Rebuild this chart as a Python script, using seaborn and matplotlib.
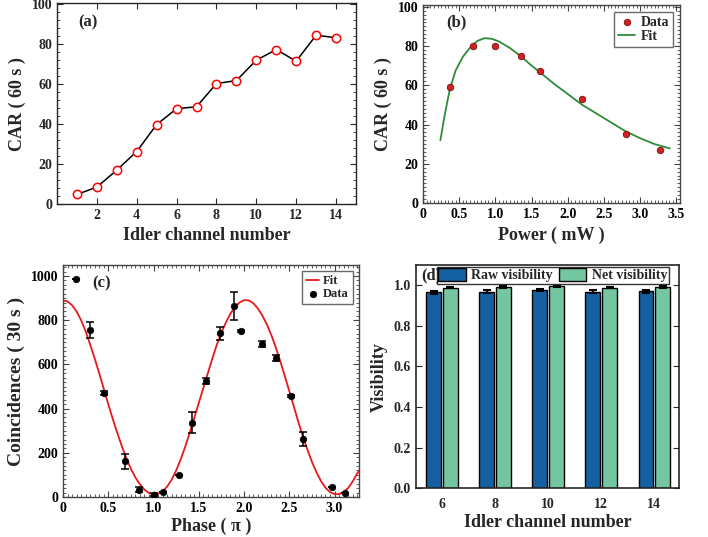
import numpy as np
import pandas as pd
import matplotlib
matplotlib.use('Agg')
import matplotlib.pyplot as plt
from matplotlib.ticker import MultipleLocator
import seaborn as sns

# (a) CAR vs idler channel
channel_a = [1, 2, 3, 4, 5, 6, 7, 8, 9, 10, 11, 12, 13, 14]
car_a = [4.8, 8.5, 17.0, 26.3, 39.8, 47.7, 48.7, 60.3, 61.8, 72.0, 77.3, 71.5, 84.5, 83.2]

# (b) CAR vs pump power
power_b = [0.377, 0.69, 1.0, 1.36, 1.61, 2.19, 2.80, 3.27]
car_b = [59.2, 80.2, 80.2, 74.7, 67.3, 52.9, 35.1, 27.1]
fit_power_b = [0.24, 0.30, 0.37, 0.45, 0.55, 0.65, 0.75, 0.85, 0.95, 1.05, 1.2, 1.36,
               1.5, 1.62, 1.8, 2.0, 2.2, 2.4, 2.6, 2.8, 3.0, 3.2, 3.41]
fit_car_b = [32, 45, 58, 67.5, 74.5, 79.2, 82.6, 84.0, 83.7, 82.3, 79, 74.5,
             70, 66.5, 61, 55.5, 50, 45.5, 41, 36.5, 33, 30, 27.8]

# (c) two-photon interference
phase_c = [0.148, 0.299, 0.454, 0.69, 0.845, 1.0, 1.11, 1.277, 1.428, 1.583,
           1.738, 1.893, 1.97, 2.2, 2.35, 2.52, 2.657, 2.97, 3.118]
coinc_c = [986, 755, 471, 161, 33, 11, 24, 100, 337, 524,
           741, 863, 752, 693, 628, 457, 263, 45, 20]
err_c = [0, 36, 8, 34, 10, 5, 0, 0, 49, 14,
         30, 63, 5, 12, 14, 5, 32, 0, 0]
fit_phase_c = [0.00, 0.05, 0.10, 0.15, 0.20, 0.25, 0.30, 0.35, 0.40, 0.45,
               0.50, 0.55, 0.60, 0.65, 0.70, 0.75, 0.80, 0.85, 0.90, 0.95,
               1.00, 1.05, 1.10, 1.15, 1.20, 1.25, 1.30, 1.35, 1.40, 1.45,
               1.50, 1.55, 1.60, 1.65, 1.70, 1.75, 1.80, 1.85, 1.90, 1.95,
               2.00, 2.05, 2.10, 2.15, 2.20, 2.25, 2.30, 2.35, 2.40, 2.45,
               2.50, 2.55, 2.60, 2.65, 2.70, 2.75, 2.80, 2.85, 2.90, 2.95,
               3.00, 3.05, 3.10, 3.15, 3.20, 3.27]
fit_coinc_c = [890, 885, 868, 840, 800, 750, 690, 627, 560, 490,
               420, 353, 290, 230, 175, 128, 88, 57, 33, 18,
               12, 14, 25, 47, 78, 120, 170, 227, 290, 357,
               425, 493, 560, 627, 690, 743, 790, 830, 860, 880,
               891, 890, 878, 855, 823, 783, 735, 678, 615, 548,
               480, 410, 340, 275, 215, 160, 112, 72, 42, 22,
               13, 13, 22, 40, 70, 120]

# (d) visibility
channels_d = ['6', '8', '10', '12', '14']
raw_vis = [0.966, 0.969, 0.977, 0.969, 0.972]
net_vis = [0.989, 0.993, 0.995, 0.989, 0.993]
raw_err = [0.007, 0.007, 0.006, 0.008, 0.007]
net_err = [0.004, 0.004, 0.004, 0.004, 0.004]

sns.set_style('ticks')
plt.rcParams['font.family'] = ['Liberation Serif', 'DejaVu Serif']
plt.rcParams['font.weight'] = 'bold'
plt.rcParams['axes.labelweight'] = 'bold'
plt.rcParams['xtick.direction'] = 'in'
plt.rcParams['ytick.direction'] = 'in'
plt.rcParams['axes.linewidth'] = 1.0

fig = plt.figure(figsize=(7.08, 5.37), dpi=100)
ax_a = fig.add_axes([0.0805, 0.620, 0.4223, 0.374])
ax_b = fig.add_axes([0.5975, 0.622, 0.363, 0.369])
ax_c = fig.add_axes([0.089, 0.0745, 0.418, 0.432])
ax_d = fig.add_axes([0.5876, 0.0912, 0.3715, 0.415])

label_fs = 13
tick_fs = 10

# ---- (a)
sns.lineplot(x=channel_a, y=car_a, ax=ax_a, color='black', lw=1.1, marker='o',
             markersize=6, markerfacecolor='white', markeredgecolor='red', markeredgewidth=1.1)
ax_a.set_xlim(0, 15)
ax_a.set_ylim(0, 100.5)
ax_a.set_xticks([2, 4, 6, 8, 10, 12, 14])
ax_a.set_yticks([0, 20, 40, 60, 80, 100])
ax_a.yaxis.set_minor_locator(MultipleLocator(4))
ax_a.tick_params(top=True, right=True, which='both', labelsize=tick_fs)
ax_a.tick_params(which='major', length=4)
ax_a.tick_params(which='minor', length=2)
ax_a.set_xlabel('Idler channel number', fontsize=label_fs)
ax_a.set_ylabel('CAR ( 60 s )', fontsize=label_fs)
ax_a.text(0.07, 0.905, '(a)', transform=ax_a.transAxes, fontsize=12, fontweight='bold', va='center')

# ---- (b)
sns.lineplot(x=fit_power_b, y=fit_car_b, ax=ax_b, color='#2e8b3a', lw=1.3, label='Fit', sort=False)
sns.scatterplot(x=power_b, y=car_b, ax=ax_b, color='#d42020', edgecolor='#7a1010',
                s=22, linewidth=0.6, label='Data', zorder=3)
ax_b.set_xlim(0, 3.55)
ax_b.set_ylim(0, 101)
ax_b.set_xticks([0, 0.5, 1.0, 1.5, 2.0, 2.5, 3.0, 3.5])
ax_b.set_xticklabels(['0', '0.5', '1.0', '1.5', '2.0', '2.5', '3.0', '3.5'])
ax_b.set_yticks([0, 20, 40, 60, 80, 100])
ax_b.xaxis.set_minor_locator(MultipleLocator(0.05))
ax_b.yaxis.set_minor_locator(MultipleLocator(2))
ax_b.tick_params(top=True, right=True, which='both', labelsize=tick_fs, colors='#444444', labelcolor='black')
ax_b.tick_params(which='major', length=4)
ax_b.tick_params(which='minor', length=2)
ax_b.set_xlabel('Power ( mW )', fontsize=label_fs)
ax_b.set_ylabel('CAR ( 60 s )', fontsize=label_fs)
ax_b.text(0.09, 0.91, '(b)', transform=ax_b.transAxes, fontsize=12, fontweight='bold', va='center')
h, l = ax_b.get_legend_handles_labels()
ax_b.legend([h[1], h[0]], [l[1], l[0]], loc='upper right', fontsize=10, frameon=True, fancybox=False,
            edgecolor='#444444', handlelength=1.2, handletextpad=0.4, borderpad=0.3,
            labelspacing=0.1, borderaxespad=0.5)
for s in ax_b.spines.values():
    s.set_color('#444444')

# ---- (c)
sns.lineplot(x=fit_phase_c, y=fit_coinc_c, ax=ax_c, color='#e8191c', lw=1.3, label='Fit', sort=False)
ax_c.errorbar(phase_c, coinc_c, yerr=err_c, fmt='none', ecolor='black', elinewidth=1.1,
              capsize=3, capthick=1.1, zorder=3)
sns.scatterplot(x=phase_c, y=coinc_c, ax=ax_c, color='black', edgecolor='black',
                s=22, linewidth=0.5, label='Data', zorder=4)
ax_c.set_xlim(0, 3.27)
ax_c.set_ylim(0, 1050)
ax_c.set_xticks([0, 0.5, 1.0, 1.5, 2.0, 2.5, 3.0])
ax_c.set_xticklabels(['0', '0.5', '1.0', '1.5', '2.0', '2.5', '3.0'])
ax_c.set_yticks([0, 200, 400, 600, 800, 1000])
ax_c.xaxis.set_minor_locator(MultipleLocator(0.05))
ax_c.yaxis.set_minor_locator(MultipleLocator(20))
ax_c.tick_params(top=True, right=True, which='both', labelsize=tick_fs, colors='#444444', labelcolor='black')
ax_c.tick_params(which='major', length=4)
ax_c.tick_params(which='minor', length=2)
ax_c.set_xlabel('Phase ( \u03c0 )', fontsize=label_fs, labelpad=2)
ax_c.set_ylabel('Coincidences ( 30 s )', fontsize=label_fs + 1)
ax_c.text(0.1, 0.92, '(c)', transform=ax_c.transAxes, fontsize=12, fontweight='bold', va='center')
ax_c.legend(loc='upper right', fontsize=9, frameon=True, fancybox=False, edgecolor='#444444',
            handlelength=1.1, handletextpad=0.3, borderpad=0.3, labelspacing=0.1, borderaxespad=0.5)
for s in ax_c.spines.values():
    s.set_color('#444444')

# ---- (d)
df_d = pd.DataFrame({
    'channel': channels_d * 2,
    'vis': raw_vis + net_vis,
    'err': raw_err + net_err,
    'kind': ['Raw visibility'] * len(channels_d) + ['Net visibility'] * len(channels_d),
})
sns.barplot(data=df_d, x='channel', y='vis', hue='kind', ax=ax_d, errorbar=None,
            palette=['#1560a0', '#74c6a0'], width=0.63, gap=0.11,
            edgecolor='black', linewidth=1.0, saturation=1)
for cont, errs in zip(ax_d.containers, [raw_err, net_err]):
    xs = [b.get_x() + b.get_width() / 2 for b in cont]
    ys = [b.get_height() for b in cont]
    ax_d.errorbar(xs, ys, yerr=errs, fmt='none', ecolor='black', elinewidth=1.5,
                  capsize=3, capthick=1.5, zorder=3)
ax_d.set_xlim(-0.49, 4.465)
ax_d.set_ylim(0, 1.1)
ax_d.set_yticks([0.0, 0.2, 0.4, 0.6, 0.8, 1.0])
ax_d.set_yticklabels(['0.0', '0.2', '0.4', '0.6', '0.8', '1.0'])
ax_d.tick_params(right=True, labelsize=tick_fs, length=4)
ax_d.tick_params(axis='x', length=0, pad=7)
ax_d.set_xlabel('Idler channel number', fontsize=label_fs, labelpad=2)
ax_d.set_ylabel('Visibility', fontsize=label_fs)
ax_d.text(0.02, 0.955, '(d)', transform=ax_d.transAxes, fontsize=12, fontweight='bold', va='center')
ax_d.legend(loc='upper center', bbox_to_anchor=(0.52, 1.0), ncol=2, fontsize=10, frameon=True,
            fancybox=False, edgecolor='black', handlelength=2.0, handleheight=1.1,
            handletextpad=0.4, columnspacing=0.4, borderpad=0.1, borderaxespad=0.1)
for s in ax_d.spines.values():
    s.set_linewidth(1.2)

fig.savefig('out.png', dpi=100)
